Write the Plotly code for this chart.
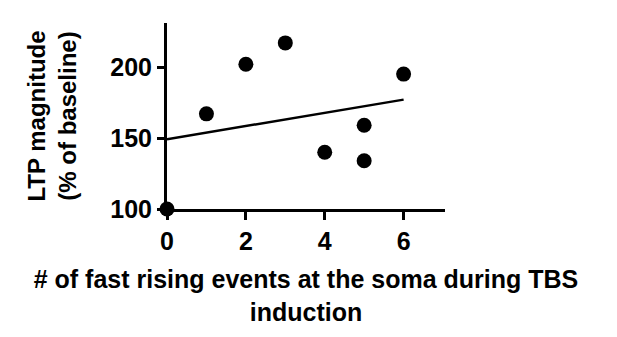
import numpy as np
import plotly.graph_objects as go

fast_events = [0, 1, 2, 3, 4, 5, 5, 6]
ltp_magnitude = [100, 167, 202, 217, 140, 159, 134, 195]
x_ticks = [0, 2, 4, 6]
y_ticks = [100, 150, 200]

slope, intercept = np.polyfit(fast_events, ltp_magnitude, 1)
fit_x = [0, 6]
fit_y = [intercept + slope * v for v in fit_x]

font_family = "Liberation Sans, Arial, sans-serif"

fig = go.Figure()
fig.add_trace(go.Scatter(x=fit_x, y=fit_y, mode="lines",
                         line=dict(color="black", width=2.5), showlegend=False))
fig.add_trace(go.Scatter(x=fast_events, y=ltp_magnitude, mode="markers",
                         marker=dict(color="black", size=15), cliponaxis=False,
                         showlegend=False))

fig.update_layout(
    width=617, height=337,
    margin=dict(l=159, r=180, t=15, b=136),
    paper_bgcolor="white", plot_bgcolor="white",
    font=dict(family=font_family, color="black"),
    xaxis=dict(range=[0, 7.05], tickvals=x_ticks, showgrid=False, zeroline=False,
               showline=True, linecolor="black", linewidth=3,
               ticks="outside", ticklen=8, tickwidth=3, tickcolor="black",
               tickfont=dict(size=25, family=font_family, weight="bold"),
               title=dict(text="<b># of fast rising events at the soma during TBS<br>induction</b>",
                          font=dict(size=25, family=font_family), standoff=17)),
    yaxis=dict(range=[100, 231], tickvals=y_ticks, showgrid=False, zeroline=False,
               showline=True, linecolor="black", linewidth=3,
               ticks="outside", ticklen=7, tickwidth=3, tickcolor="black",
               tickfont=dict(size=25, family=font_family, weight="bold"),
               title=dict(text="<b>LTP magnitude<br>(% of baseline)</b>",
                          font=dict(size=24, family=font_family), standoff=27)),
)

fig.write_html("out.html")
